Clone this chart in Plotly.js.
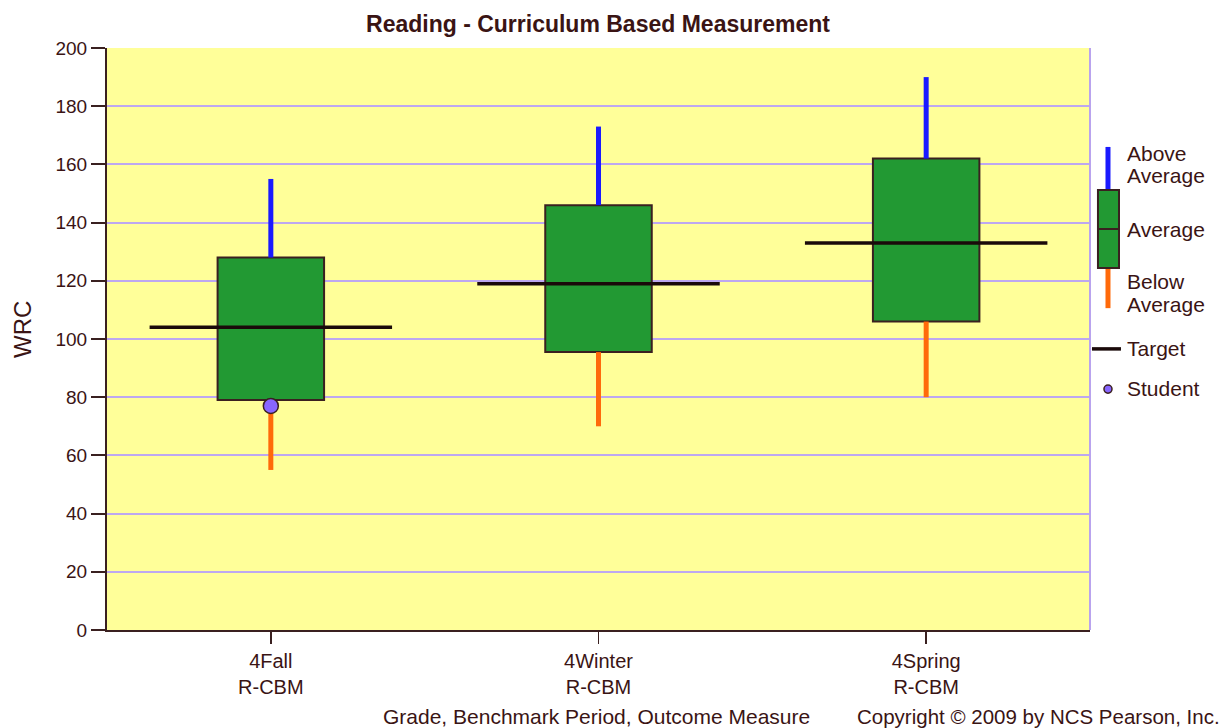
<!DOCTYPE html>
<html><head><meta charset="utf-8">
<script src="https://cdn.plot.ly/plotly-3.0.1.min.js"></script>
<style>html,body{margin:0;padding:0;background:#fff}#chart{width:1226px;height:728px}</style>
</head><body><div id="chart"></div>
<script>
const categories = ['4Fall', '4Winter', '4Spring'];
const measures = ['R-CBM', 'R-CBM', 'R-CBM'];
const belowMin = [55, 70, 80];
const boxLow = [79, 95.5, 106];
const boxHigh = [128, 146, 162];
const aboveMax = [155, 173, 190];
const target = [104, 119, 133];
const student = [77, null, null];
const yTicks = [0, 20, 40, 60, 80, 100, 120, 140, 160, 180, 200];

const FONT = 'Arial, "Liberation Sans", sans-serif';
const TXT = '#3a1414';
const idx = categories.map((c, i) => i);

function segs(lo, hi) {
  const xs = [], ys = [];
  idx.forEach(i => { xs.push(i, i, null); ys.push(lo[i], hi[i], null); });
  return {x: xs, y: ys};
}
const up = segs(boxHigh, aboveMax);
const dn = segs(belowMin, boxLow);
const tx = [], ty = [];
idx.forEach(i => { tx.push(i - 0.37, i + 0.37, null); ty.push(target[i], target[i], null); });

const traces = [
  {type: 'scatter', mode: 'lines', x: up.x, y: up.y, line: {color: '#1a1aff', width: 5}, hoverinfo: 'skip'},
  {type: 'scatter', mode: 'lines', x: dn.x, y: dn.y, line: {color: '#ff6a0a', width: 5}, hoverinfo: 'skip'},
  {type: 'bar', x: idx, base: boxLow, y: idx.map(i => boxHigh[i] - boxLow[i]), width: 0.325,
   marker: {color: '#229933', line: {color: '#3a2020', width: 2}}},
  {type: 'scatter', mode: 'lines', x: tx, y: ty, line: {color: '#1a0a0a', width: 3.5}, hoverinfo: 'skip'},
  {type: 'scatter', mode: 'markers', x: idx, y: student,
   marker: {color: '#8866ff', size: 15, line: {color: '#3a2020', width: 1.5}}}
];

const LG = '#3a2020';
const shapes = [
  {type: 'line', xref: 'paper', yref: 'paper', x0: 1, x1: 1, y0: 0, y1: 1, line: {color: '#b9a3ee', width: 2}},
  {type: 'line', xref: 'paper', yref: 'paper', x0: 1.0183, x1: 1.0183, y0: 0.756, y1: 0.830, line: {color: '#1a1aff', width: 5}},
  {type: 'line', xref: 'paper', yref: 'paper', x0: 1.0183, x1: 1.0183, y0: 0.553, y1: 0.622, line: {color: '#ff6a0a', width: 5}},
  {type: 'rect', xref: 'paper', yref: 'paper', x0: 1.0081, x1: 1.0295, y0: 0.622, y1: 0.756, fillcolor: '#229933', line: {color: LG, width: 2}},
  {type: 'line', xref: 'paper', yref: 'paper', x0: 1.0081, x1: 1.0295, y0: 0.689, y1: 0.689, line: {color: LG, width: 2}},
  {type: 'line', xref: 'paper', yref: 'paper', x0: 1.002, x1: 1.0315, y0: 0.483, y1: 0.483, line: {color: '#1a0a0a', width: 3.5}},
  {type: 'circle', xref: 'paper', yref: 'paper', x0: 1.0142, x1: 1.0224, y0: 0.407, y1: 0.421, fillcolor: '#8866ff', line: {color: LG, width: 1.5}}
];

function py(p) { return (630 - p) / 582; }
function px(p) { return (p - 107) / 983; }
function lab(text, ypix) {
  return {xref: 'paper', yref: 'paper', x: px(1125), y: py(ypix), xanchor: 'left', yanchor: 'middle', showarrow: false, align: 'left',
          text: text, font: {family: FONT, size: 21, color: TXT}};
}
const annotations = [
  lab('Above', 153), lab('Average', 175),
  lab('Average', 229),
  lab('Below', 281), lab('Average', 304),
  lab('Target', 349),
  lab('Student', 389),
  {xref: 'paper', yref: 'paper', x: px(596), y: py(716), xanchor: 'center', yanchor: 'middle', showarrow: false,
   text: 'Grade, Benchmark Period, Outcome Measure', font: {family: FONT, size: 21, color: TXT}},
  {xref: 'paper', yref: 'paper', x: px(1222), y: py(716), xanchor: 'right', yanchor: 'middle', showarrow: false,
   text: 'Copyright \u00A9 2009 by NCS Pearson, Inc.', font: {family: FONT, size: 20.5, color: TXT}},
  {xref: 'paper', yref: 'paper', x: px(22), y: py(330), xanchor: 'center', yanchor: 'middle', showarrow: false, textangle: -90,
   text: 'WRC', font: {family: FONT, size: 24, color: TXT}}
];

const layout = {
  width: 1226, height: 728,
  margin: {l: 107, r: 136, t: 48, b: 98},
  paper_bgcolor: '#ffffff', plot_bgcolor: '#ffff99',
  showlegend: false,
  title: {text: '<b>Reading - Curriculum Based Measurement</b>', x: px(598), xref: 'paper', xanchor: 'center',
          y: 1 - 24 / 728, yref: 'container', yanchor: 'middle', font: {family: FONT, size: 23, color: TXT}},
  xaxis: {range: [-0.5, 2.5], tickvals: idx, ticktext: idx.map(i => categories[i] + '<br>' + measures[i]),
          showgrid: false, zeroline: false, showline: true, linecolor: LG, linewidth: 2,
          ticks: 'outside', ticklen: 12, tickwidth: 1.5, tickcolor: LG,
          tickfont: {family: FONT, size: 20, color: TXT}, fixedrange: true},
  yaxis: {range: [0, 200], tickvals: yTicks, showgrid: true, gridcolor: '#bda8f0', gridwidth: 2,
          zeroline: false, showline: true, linecolor: LG, linewidth: 2,
          ticks: 'outside', ticklen: 14, tickwidth: 2, tickcolor: LG,
          tickfont: {family: FONT, size: 19, color: TXT}, fixedrange: true},
  shapes: shapes,
  annotations: annotations,
  bargap: 0
};

Plotly.newPlot('chart', traces, layout, {displayModeBar: false, staticPlot: true});
</script></body></html>
